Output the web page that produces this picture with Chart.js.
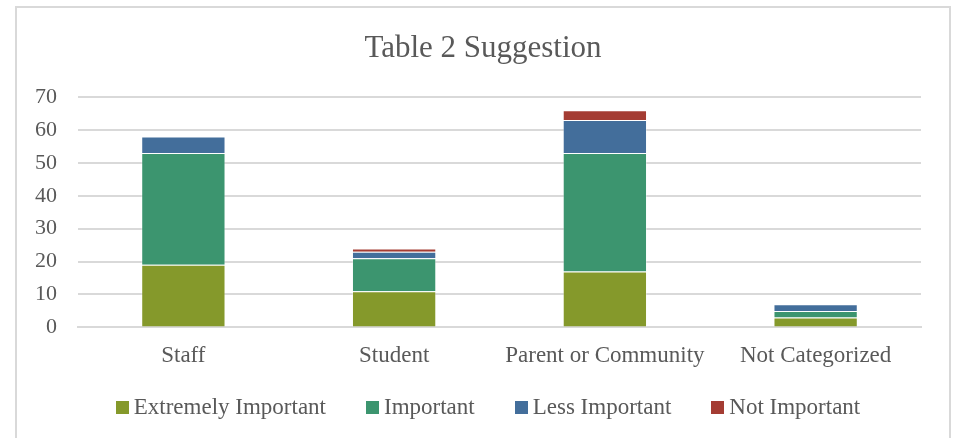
<!DOCTYPE html>
<html>
<head>
<meta charset="utf-8">
<script src="https://cdn.jsdelivr.net/npm/chart.js@4"></script>
<style>
  body { margin: 0; background: #fff; }
  #frame {
    position: absolute; left: 15px; top: 6px; width: 936px; height: 450px;
    border: 2px solid #d9d9d9; box-sizing: border-box;
  }
  #wrap { position: absolute; left: 17px; top: 8px; width: 932px; height: 430px; }
  #title {
    position: absolute; left: 17px; top: 28px; width: 932px; text-align: center;
    font-family: 'Liberation Serif', 'DejaVu Serif', serif; font-size: 31px; line-height: 37px; color: #595959;
  }
  #legend {
    position: absolute; left: 22px; top: 394px; width: 932px;
    display: flex; justify-content: center; gap: 40px;
    font-family: 'Liberation Serif', 'DejaVu Serif', serif; font-size: 23px; color: #595959;
  }
  #legend span.item { display: flex; align-items: center; }
  #legend span.box { display: inline-block; width: 13px; height: 13px; margin-right: 5px; }
</style>
</head>
<body>
<div id="frame"></div>
<div id="wrap"><canvas id="chart"></canvas></div>
<div id="title">Table 2 Suggestion</div>
<div id="legend"></div>
<script>
// chart data
var categories = ["Staff", "Student", "Parent or Community", "Not Categorized"];
var extremelyImportant = [19, 11, 17, 3];
var important = [34, 10, 36, 2];
var lessImportant = [5, 2, 10, 2];
var notImportant = [0, 1, 3, 0];
var yTicks = [0, 10, 20, 30, 40, 50, 60, 70];

var font = "'Liberation Serif', 'DejaVu Serif', serif";
var textColor = "#595959";

function series(label, data, color) {
  return {
    label: label,
    data: data,
    backgroundColor: color,
    borderColor: "rgba(255,255,255,0.35)",
    borderWidth: 1,
    barPercentage: 0.4,
    categoryPercentage: 1
  };
}

var chart = new Chart(document.getElementById("chart"), {
  type: "bar",
  data: {
    labels: categories,
    datasets: [
      series("Extremely Important", extremelyImportant, "#85992b"),
      series("Important", important, "#3c956f"),
      series("Less Important", lessImportant, "#436e9b"),
      series("Not Important", notImportant, "#a43c33")
    ]
  },
  options: {
    responsive: true,
    maintainAspectRatio: false,
    animation: false,
    // top leaves room for the html title
    layout: { padding: { left: -3, right: 28, top: 89, bottom: 61 } },
    plugins: {
      title: { display: false },
      legend: { display: false },
      tooltip: { enabled: false }
    },
    scales: {
      x: {
        stacked: true,
        grid: { display: false },
        border: { color: "#d9d9d9", width: 2 },
        ticks: { color: textColor, font: { family: font, size: 23 }, padding: 7 }
      },
      y: {
        stacked: true,
        min: 0,
        max: 70,
        afterBuildTicks: function(axis) {
          axis.ticks = yTicks.map(function(v) { return { value: v }; });
        },
        grid: { color: "#d9d9d9", lineWidth: 2, drawTicks: false },
        border: { display: false },
        ticks: { color: textColor, font: { family: font, size: 22 }, padding: 21 }
      }
    }
  }
});

// legend as html, built from the datasets
var legend = document.getElementById("legend");
chart.data.datasets.forEach(function(ds) {
  var item = document.createElement("span");
  item.className = "item";
  var box = document.createElement("span");
  box.className = "box";
  box.style.background = ds.backgroundColor;
  item.appendChild(box);
  item.appendChild(document.createTextNode(ds.label));
  legend.appendChild(item);
});
</script>
</body>
</html>
